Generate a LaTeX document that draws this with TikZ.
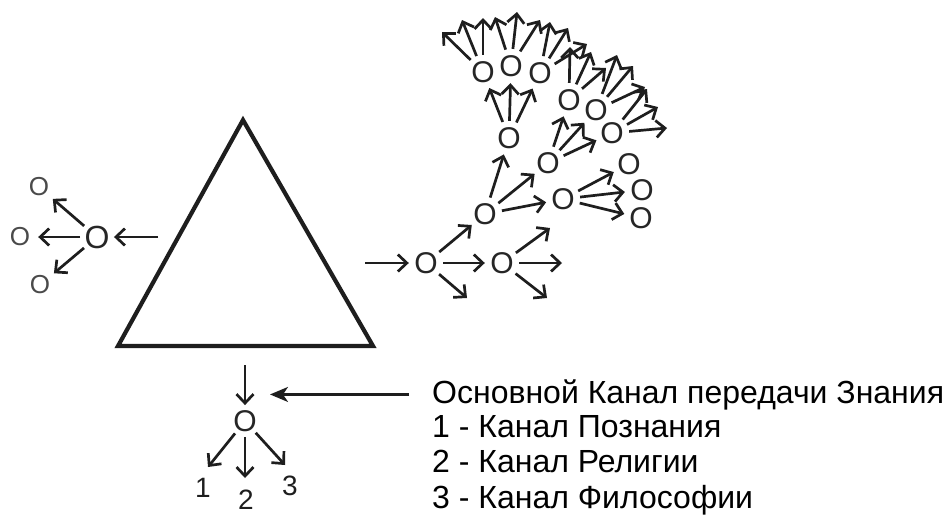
\documentclass[tikz,border=0pt]{standalone}
\usepackage{fontspec}
\setmainfont{Liberation Sans}
\usetikzlibrary{arrows.meta}
\definecolor{ink}{HTML}{1E1E1E}
\definecolor{ogray}{HTML}{262626}
\definecolor{lgray}{HTML}{4A4A4A}
\begin{document}
\begin{tikzpicture}[x=1pt,y=-1pt,
  arr/.style={draw=ink, line width=2.7pt, -{Straight Barb[length=9pt,width=17pt]}},
  bigarr/.style={draw=ink, line width=2.4pt, -{Stealth[length=18pt,width=15pt,inset=5pt]}},
  onode/.style={circle, inner sep=0pt, minimum size=34pt, text=ogray, font=\fontsize{30}{30}\selectfont},
  lnode/.style={circle, inner sep=0pt, minimum size=36pt, text=lgray, font=\fontsize{26}{26}\selectfont},
  cnode/.style={circle, inner sep=0pt, minimum size=32pt, text=ogray, font=\fontsize{32}{32}\selectfont},
  bnode/.style={circle, inner sep=0pt, minimum size=30pt, text=ogray, font=\fontsize{30}{30}\selectfont},
  numlab/.style={inner sep=0pt, text=ink, font=\fontsize{28}{28}\selectfont},
  txt/.style={inner sep=0pt, text=black, font=\fontsize{32}{32}\selectfont},
  tri/.style={draw=ink, line width=4.2pt, line join=miter}
]
\useasboundingbox (0,0) rectangle (944,515);

% triangle
\coordinate (T1) at (243,120);
\coordinate (T2) at (118,346);
\coordinate (T3) at (373,346);
\draw[tri] (T1) -- (T2) -- (T3) -- cycle;

% left cluster
\node[cnode] (L0) at (97,237) {O};
\node[lnode] (L1) at (20,237) {O};
\node[lnode] (L2) at (39,187) {O};
\node[lnode] (L3) at (40,285) {O};
\coordinate (lin) at (158,237);
\draw[arr] (lin) -- (L0);
\draw[arr] (L0) -- (L1);
\draw[arr] (L0) -- (L2);
\draw[arr] (L0) -- (L3);

% right tree nodes
\node[onode] (A) at (426,263) {O};
\node[onode] (B) at (502,263) {O};
\node[onode] (C) at (485,214) {O};
\node[onode] (D) at (563,199) {O};
\node[onode] (E1) at (629,164) {O};
\node[onode] (E2) at (642,190) {O};
\node[onode] (E3) at (641,218) {O};
\node[onode] (F) at (509,138) {O};
\node[onode] (G) at (548,163) {O};
\node[onode] (H) at (569,100) {O};
\node[onode] (I) at (596,110) {O};
\node[onode] (J) at (612,133) {O};
\node[onode] (K1) at (483,72) {O};
\node[onode] (K2) at (511,66) {O};
\node[onode] (K3) at (540,73) {O};

% free ends
\coordinate (rin) at (365,263);
\coordinate (a1) at (467,298);
\coordinate (b1) at (562,263);
\coordinate (b2) at (547,298);
\coordinate (b3) at (550,228);
\coordinate (k11) at (442,32);
\coordinate (k12) at (462,20);
\coordinate (k13) at (483,18);
\coordinate (k21) at (495,17);
\coordinate (k22) at (517,12);
\coordinate (k23) at (540,20);
\coordinate (k31) at (550,22);
\coordinate (k32) at (568,28);
\coordinate (k33) at (587,44);
\coordinate (h1) at (570,47);
\coordinate (h2) at (591,52);
\coordinate (h3) at (606,68);
\coordinate (i1) at (617,55);
\coordinate (i2) at (633,66);
\coordinate (i3) at (645,87);
\coordinate (j1) at (647,89);
\coordinate (j2) at (658,107);
\coordinate (j3) at (667,128);

% right tree connectors
\draw[arr] (rin) -- (A);
\draw[arr] (A) -- (B);
\draw[arr] (A) -- (C);
\draw[arr] (A) -- (a1);
\draw[arr] (B) -- (b1);
\draw[arr] (B) -- (b2);
\draw[arr] (B) -- (b3);
\draw[arr] (C) -- (D);
\draw[arr] (C) -- (F);
\draw[arr] (C) -- (G);
\draw[arr] (D) -- (E1);
\draw[arr] (D) -- (E2);
\draw[arr] (D) -- (E3);
\draw[arr] (F) -- (K1);
\draw[arr] (F) -- (K2);
\draw[arr] (F) -- (K3);
\draw[arr] (G) -- (H);
\draw[arr] (G) -- (I);
\draw[arr] (G) -- (J);
\foreach \n/\a/\b/\c in {K1/k11/k12/k13, K2/k21/k22/k23, K3/k31/k32/k33, H/h1/h2/h3, I/i1/i2/i3, J/j1/j2/j3} {
  \draw[arr] (\n) -- (\a);
  \draw[arr] (\n) -- (\b);
  \draw[arr] (\n) -- (\c);
}

% bottom cluster
\node[bnode] (b0) at (245,421) {O};
\coordinate (bd) at (245,365);
\draw[arr] (bd) -- (b0);
\node[numlab] (n1) at (203,488) {1};
\node[numlab] (n2) at (246,500) {2};
\node[numlab] (n3) at (290,486) {3};
\coordinate (c1) at (208,467);
\coordinate (c2) at (245,478);
\coordinate (c3) at (285,465);
\draw[arr] (b0) -- (c1);
\draw[arr] (b0) -- (c2);
\draw[arr] (b0) -- (c3);

% legend text
\node[txt, anchor=base west] (t1) at (432,403) {Основной Канал передачи Знания};
\node[txt, anchor=base west] (t2) at (432,437) {1 - Канал Познания};
\node[txt, anchor=base west] (t3) at (432,472) {2 - Канал Религии};
\node[txt, anchor=base west] (t4) at (432,508) {3 - Канал Философии};
\coordinate (lt) at (270,395);
\draw[bigarr] ([xshift=-23pt]t1.west) -- (lt |- t1.west);
\end{tikzpicture}
\end{document}
